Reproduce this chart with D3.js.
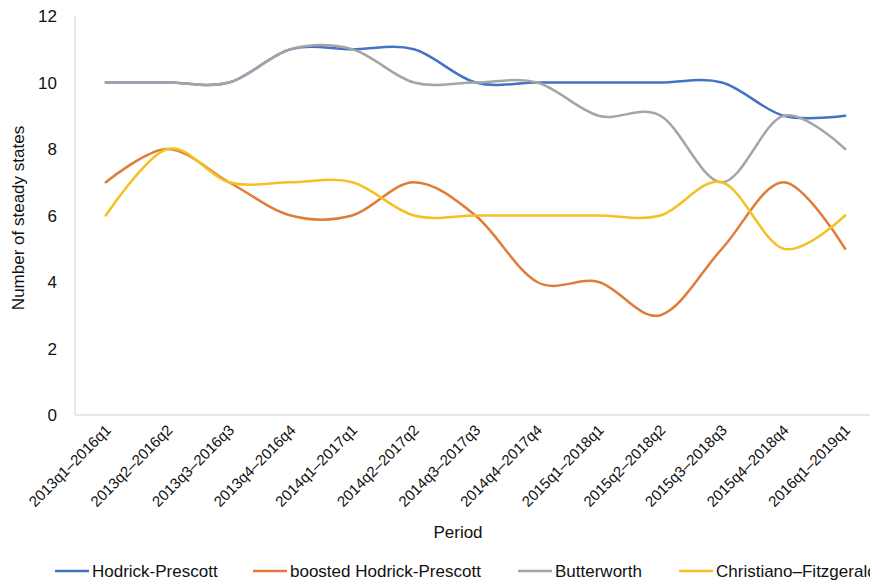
<!DOCTYPE html>
<html>
<head>
<meta charset="utf-8">
<script src="https://cdn.jsdelivr.net/npm/d3@7"></script>
<style>
  html, body { margin: 0; padding: 0; background: #fff; overflow: hidden; }
  text { font-family: "Liberation Sans", Arial, sans-serif; fill: #111; }
</style>
</head>
<body>
<div id="chart"></div>
<script>
// DATA ////////////////////////////////////////////////////////////////////////
const periods = [
  "2013q1–2016q1", "2013q2–2016q2", "2013q3–2016q3", "2013q4–2016q4",
  "2014q1–2017q1", "2014q2–2017q2", "2014q3–2017q3", "2014q4–2017q4",
  "2015q1–2018q1", "2015q2–2018q2", "2015q3–2018q3", "2015q4–2018q4",
  "2016q1–2019q1"
];
const hodrickPrescott = [10, 10, 10, 11, 11, 11, 10, 10, 10, 10, 10, 9, 9];
const boostedHP       = [7, 8, 7, 6, 6, 7, 6, 4, 4, 3, 5, 7, 5];
const butterworth     = [10, 10, 10, 11, 11, 10, 10, 10, 9, 9, 7, 9, 8];
const christianoFitz  = [6, 8, 7, 7, 7, 6, 6, 6, 6, 6, 7, 5, 6];
const yTicks = [0, 2, 4, 6, 8, 10, 12];

const seriesNames = ["Hodrick-Prescott", "boosted Hodrick-Prescott", "Butterworth", "Christiano–Fitzgerald"];
const seriesValues = [hodrickPrescott, boostedHP, butterworth, christianoFitz];
const seriesColors = ["#4472c4", "#e07b39", "#a5a5a5", "#f5c022"];

// CHART ///////////////////////////////////////////////////////////////////////
const w = 880, h = 583;
const plotLeft = 75, plotRight = 876, plotTop = 16, plotBottom = 415;

const svg = d3.select("#chart").append("svg")
  .attr("width", w)
  .attr("height", h);

const x = d3.scalePoint()
  .domain(periods)
  .range([plotLeft, plotRight])
  .padding(0.5);

const y = d3.scaleLinear()
  .domain([0, 12])
  .range([plotBottom, plotTop]);

// axis lines
svg.append("line")
  .attr("x1", plotLeft).attr("x2", plotLeft)
  .attr("y1", y(12)).attr("y2", y(0))
  .attr("stroke", "#d9d9d9").attr("stroke-width", 1.2);

svg.append("line")
  .attr("x1", plotLeft).attr("x2", plotRight)
  .attr("y1", y(0)).attr("y2", y(0))
  .attr("stroke", "#d0d0d0").attr("stroke-width", 1.2);

// y tick labels
svg.selectAll(".ytick")
  .data(yTicks)
  .enter()
  .append("text")
  .attr("class", "ytick")
  .attr("x", 57)
  .attr("y", d => y(d))
  .attr("dy", "0.36em")
  .attr("text-anchor", "end")
  .style("font-size", "17px")
  .text(d => d);

// x tick labels, rotated
svg.selectAll(".xtick")
  .data(periods)
  .enter()
  .append("text")
  .attr("class", "xtick")
  .attr("transform", d => "translate(" + (x(d) + 6) + "," + (plotBottom + 16) + ") rotate(-45)")
  .attr("text-anchor", "end")
  .style("font-size", "15px")
  .text(d => d);

// axis titles
svg.append("text")
  .attr("x", 458)
  .attr("y", 538)
  .attr("text-anchor", "middle")
  .style("font-size", "17px")
  .text("Period");

svg.append("text")
  .attr("transform", "translate(24," + 218 + ") rotate(-90)")
  .attr("text-anchor", "middle")
  .style("font-size", "17px")
  .text("Number of steady states");

// smoothed lines, like the spreadsheet's "smoothed line" option
const line = d3.line()
  .x((d, i) => x(periods[i]))
  .y(d => y(d))
  .curve(d3.curveCatmullRom.alpha(0));

svg.selectAll(".series")
  .data(seriesValues)
  .enter()
  .append("path")
  .attr("class", "series")
  .attr("d", d => line(d))
  .attr("fill", "none")
  .attr("stroke", (d, i) => seriesColors[i])
  .attr("stroke-width", 2.5)
  .attr("stroke-linecap", "round");

// legend (last entry runs off the right edge, as in the original)
const legendX = [55, 253, 518, 679];
const legend = svg.selectAll(".legend")
  .data(seriesNames)
  .enter()
  .append("g")
  .attr("class", "legend")
  .attr("transform", (d, i) => "translate(" + legendX[i] + ",571)");

legend.append("line")
  .attr("x1", 0).attr("x2", 34)
  .attr("y1", 0).attr("y2", 0)
  .attr("stroke", (d, i) => seriesColors[i])
  .attr("stroke-width", 2.5);

legend.append("text")
  .attr("x", 37)
  .attr("y", 0)
  .attr("dy", "0.36em")
  .style("font-size", "17px")
  .text(d => d);
</script>
</body>
</html>
